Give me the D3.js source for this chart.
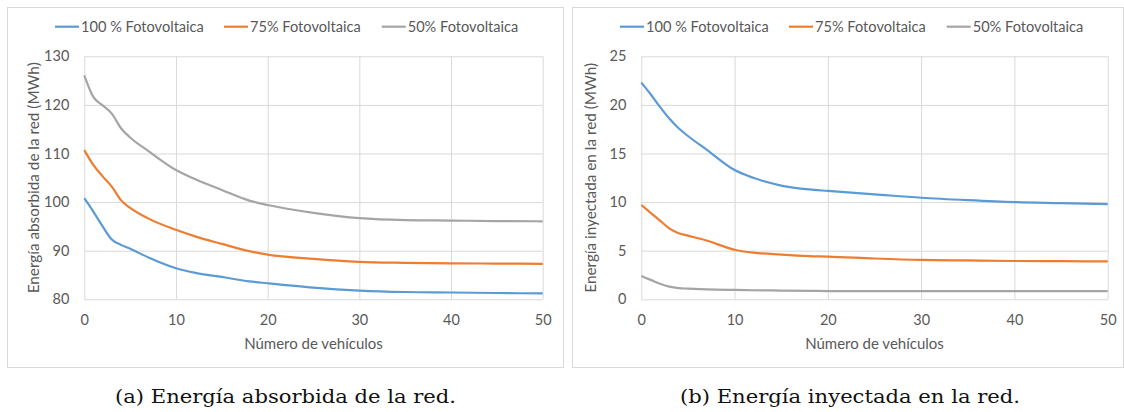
<!DOCTYPE html>
<html>
<head>
<meta charset="utf-8">
<script src="https://cdn.jsdelivr.net/npm/d3@7"></script>
<style>
  body { margin: 0; background: #fff; }
  svg text { font-family: Lato, "Open Sans", sans-serif; fill: #595959; }
</style>
</head>
<body>
<script>
// number of vehicles (x values)
var vehicles = [0, 1, 2, 3, 4, 5, 7, 10, 12, 15, 18, 20, 25, 30, 35, 40, 45, 50];
var seriesNames = ["100 % Fotovoltaica", "75% Fotovoltaica", "50% Fotovoltaica"];
var seriesColors = ["#5b9bd5", "#ed7d31", "#a5a5a5"];
var xTicks = [0, 10, 20, 30, 40, 50];

// (a) energy absorbed from the grid, MWh
var absorbida100 = [100.8, 98.0, 95.0, 92.3, 91.2, 90.4, 88.6, 86.4, 85.5, 84.6, 83.7, 83.3, 82.4, 81.8, 81.5, 81.4, 81.3, 81.2];
var absorbida75 = [110.7, 107.6, 105.3, 103.2, 100.4, 98.8, 96.6, 94.3, 93.0, 91.4, 89.9, 89.2, 88.3, 87.7, 87.5, 87.4, 87.35, 87.3];
var absorbida50 = [126.1, 121.6, 119.9, 118.2, 115.2, 113.3, 110.5, 106.6, 104.8, 102.5, 100.3, 99.4, 97.8, 96.7, 96.3, 96.2, 96.1, 96.05];
var absorbidaTicks = [80, 90, 100, 110, 120, 130];

// (b) energy injected into the grid, MWh
var inyectada100 = [22.3, 21.1, 19.8, 18.6, 17.6, 16.8, 15.4, 13.3, 12.5, 11.7, 11.3, 11.15, 10.8, 10.45, 10.2, 10.0, 9.9, 9.8];
var inyectada75 = [9.7, 8.9, 8.1, 7.3, 6.8, 6.55, 6.05, 5.1, 4.8, 4.6, 4.45, 4.4, 4.2, 4.05, 4.0, 3.94, 3.92, 3.9];
var inyectada50 = [2.4, 2.0, 1.6, 1.3, 1.15, 1.1, 1.02, 0.96, 0.93, 0.9, 0.87, 0.85, 0.85, 0.85, 0.85, 0.85, 0.85, 0.85];
var inyectadaTicks = [0, 5, 10, 15, 20, 25];

var svg = d3.select("body").append("svg")
  .attr("width", 1124)
  .attr("height", 412);

function drawChart(opt) {
  var g = svg.append("g").attr("transform", "translate(" + opt.left + ",7.5)");

  // chart frame
  g.append("rect")
    .attr("width", opt.frameW)
    .attr("height", 360)
    .attr("fill", "#fff")
    .attr("stroke", "#d9d9d9");

  var x = d3.scaleLinear().domain([0, 50]).range([opt.plotX, opt.plotX + opt.plotW]);
  var y = d3.scaleLinear().domain(d3.extent(opt.yTicks)).range([291.8, 48.8]);

  // gridlines + tick labels
  var yAxis = g.append("g")
    .attr("transform", "translate(" + opt.plotX + ",0)")
    .call(d3.axisLeft(y).tickValues(opt.yTicks).tickSize(-opt.plotW).tickPadding(15));
  var xAxis = g.append("g")
    .attr("transform", "translate(0,291.8)")
    .call(d3.axisBottom(x).tickValues(xTicks).tickSize(-243).tickPadding(15));
  [xAxis, yAxis].forEach(function(a) {
    a.select(".domain").remove();
    a.selectAll("line").attr("stroke", "#d9d9d9");
    a.selectAll("text").style("font-size", "14.5px").attr("fill", "#595959");
  });

  // series lines
  var line = d3.line()
    .x(function(d, i) { return x(vehicles[i]); })
    .y(function(d) { return y(d); })
    .curve(d3.curveMonotoneX);
  opt.series.forEach(function(s, i) {
    g.append("path")
      .datum(s)
      .attr("fill", "none")
      .attr("stroke", seriesColors[i])
      .attr("stroke-width", 2.2)
      .attr("d", line);
  });

  // axis titles
  g.append("text")
    .attr("text-anchor", "middle")
    .attr("x", opt.plotX + opt.plotW / 2)
    .attr("y", 341)
    .style("font-size", "15px")
    .text("Número de vehículos");
  g.append("text")
    .attr("text-anchor", "middle")
    .attr("transform", "translate(" + (opt.plotX - 51) + ",170.3) rotate(-90)")
    .attr("dy", "0.35em")
    .style("font-size", "15.3px")
    .text(opt.yTitle);

  // legend
  var legendX = [47.5, 216.5, 374.2];
  seriesNames.forEach(function(name, i) {
    g.append("line")
      .attr("x1", legendX[i]).attr("x2", legendX[i] + 24)
      .attr("y1", 19.2).attr("y2", 19.2)
      .attr("stroke", seriesColors[i])
      .attr("stroke-width", 2.2);
    g.append("text")
      .attr("x", legendX[i] + 26)
      .attr("y", 19.2)
      .attr("dy", "0.35em")
      .style("font-size", "14.6px")
      .text(name);
  });

  // caption below
  svg.append("text")
    .attr("x", opt.captionX)
    .attr("y", 402.7)
    .attr("text-anchor", "middle")
    .attr("textLength", opt.captionW)
    .attr("lengthAdjust", "spacingAndGlyphs")
    .style("font-family", "'DejaVu Serif', serif")
    .style("font-size", "19px")
    .style("fill", "#111")
    .text(opt.caption);
}

drawChart({
  left: 7.5, frameW: 556, plotX: 76.8, plotW: 458.4,
  yTicks: absorbidaTicks,
  series: [absorbida100, absorbida75, absorbida50],
  yTitle: "Energía absorbida de la red (MWh)",
  caption: "(a) Energía absorbida de la red.",
  captionX: 285.5, captionW: 341
});

drawChart({
  left: 572.5, frameW: 551, plotX: 68.8, plotW: 466.4,
  yTicks: inyectadaTicks,
  series: [inyectada100, inyectada75, inyectada50],
  yTitle: "Energía inyectada en la red (MWh)",
  caption: "(b) Energía inyectada en la red.",
  captionX: 850, captionW: 340
});
</script>
</body>
</html>
